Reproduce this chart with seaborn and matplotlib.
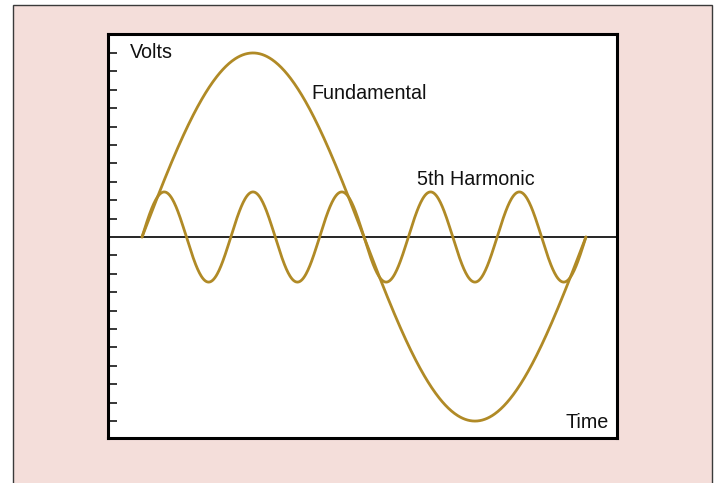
import numpy as np
import pandas as pd
import matplotlib
matplotlib.use("Agg")
import matplotlib.pyplot as plt
import seaborn as sns
from matplotlib.patches import Rectangle

# --- data ---
series_names = ["Fundamental", "5th Harmonic"]
amplitudes = [10.0, 2.45]         # volts (tick units)
orders = [1, 5]                   # harmonic order
phase_deg = np.linspace(0, 360, 721)   # one cycle of the fundamental
ytick_values = [v for v in range(-10, 11) if v != 0]
labels = ["Volts", "Fundamental", "5th Harmonic", "Time"]

rows = []
for name, amp, n in zip(series_names, amplitudes, orders):
    for t in phase_deg:
        rows.append({"time": t, "volts": amp * np.sin(np.deg2rad(n * t)), "series": name})
df = pd.DataFrame(rows)

sns.set_theme(style="white")
plt.rcParams["font.family"] = ["Liberation Sans", "DejaVu Sans"]

W, H = 716, 483
fig = plt.figure(figsize=(W / 100, H / 100), dpi=100, facecolor="white")
bg = Rectangle((13 / W, -0.01), (712 - 13) / W, (483 - 5) / H + 0.01,
               transform=fig.transFigure, facecolor="#F4DEDA",
               edgecolor="#3a3a3a", lw=1.0, zorder=-10)
fig.patches.append(bg)

ax = fig.add_axes([108 / W, 1 - 438 / H, (617 - 108) / W, (438 - 34) / H])
ax.set_zorder(5)
ax.set_facecolor("white")
gold = "#B08A26"
sns.lineplot(data=df, x="time", y="volts", hue="series", palette=[gold, gold],
             legend=False, lw=2.0, ax=ax, sort=False, estimator=None, units="series")

ax.axhline(0, color="black", lw=1.2, zorder=1)
ax.set_xlim(-27.6, 385.2)
ax.set_ylim(-10.92, 11.03)
ax.set_xticks([])
ax.set_yticks(ytick_values)
ax.set_yticklabels([])
ax.tick_params(axis="y", direction="in", length=6.5, width=1.1, color="black", left=True)
ax.set_xlabel("")
ax.set_ylabel("")
for s in ax.spines.values():
    s.set_color("black")
    s.set_linewidth(2.2)

fs = 14.2
ax.text(-9.7, 10.05, labels[0], fontsize=fs, ha="left", va="center", color="#111")
ax.text(137, 7.8, labels[1], fontsize=fs, ha="left", va="center", color="#111")
ax.text(223, 3.1, labels[2], fontsize=fs, ha="left", va="center", color="#111")
ax.text(378.7, -10.1, labels[3], fontsize=fs, ha="right", va="center", color="#111")

fig.savefig("out.png", dpi=100, facecolor=fig.get_facecolor())
